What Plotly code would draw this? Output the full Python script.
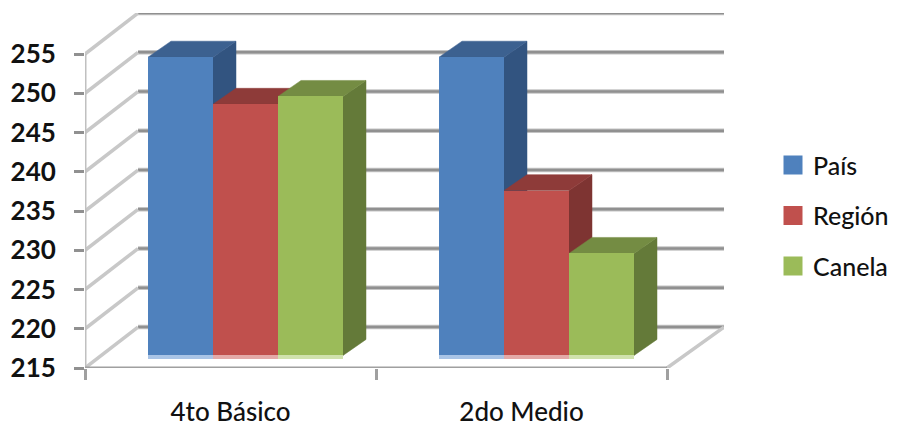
import plotly.graph_objects as go

categories = ["4to Básico", "2do Medio"]
series_names = ["País", "Región", "Canela"]
pais = [253, 253]
region = [247, 236]
canela = [248, 228]
y_ticks = [215, 220, 225, 230, 235, 240, 245, 250, 255]

front = ["#4f81bd", "#c0504d", "#9bbb59"]
top = ["#3c6190", "#8e3b39", "#748c43"]
side = ["#325480", "#7e3432", "#647a39"]
strip = ["#a9c4e6", "#e3aaa8", "#d0e2ad"]
TEXT = "#111111"
FONT = "Lato"

# figure geometry (pixels, page coordinates; the page puts the figure 8 px in)
PAGE = 8
FIG_W, FIG_H = 882, 419
PX_L, PX_R, PX_T, PX_B = 85, 724, 13, 368.5
PX_PER_CAT = 291
PX_PER_UNIT = 7.86
Y_MIN = 215
x_max = (PX_R - PX_L) / PX_PER_CAT
y_max = Y_MIN + (PX_B - PX_T) / PX_PER_UNIT

wall_dx, wall_dy = 53 / PX_PER_CAT, 41 / PX_PER_UNIT
bar_w = 65 / PX_PER_CAT
bar_start = 63 / PX_PER_CAT
bar_dx, bar_dy = 23 / PX_PER_CAT, 16 / PX_PER_UNIT
base_shift = 1.6
strip_h = 0.4

fig = go.Figure()


def line(xs, ys, color, width):
    fig.add_trace(go.Scatter(x=xs, y=ys, mode="lines", showlegend=False, hoverinfo="skip",
                             cliponaxis=False, line=dict(color=color, width=width)))


def poly(xs, ys, color):
    fig.add_trace(go.Scatter(x=xs, y=ys, mode="lines", fill="toself", fillcolor=color,
                             showlegend=False, hoverinfo="skip", line=dict(color=color, width=0.5)))


# walls
gx, gy = [], []
for v in y_ticks:
    gx += [wall_dx, x_max, None]
    gy += [v + wall_dy, v + wall_dy, None]
line(gx, gy, "#c4c4c4", 4.5)
line(gx, gy, "#909090", 2.5)
dx, dy = [], []
for v in y_ticks:
    dx += [0, wall_dx, None]
    dy += [v, v + wall_dy, None]
dx += [2, x_max]
dy += [Y_MIN, Y_MIN + wall_dy]
line(dx, dy, "#c8c8c8", 3.5)
line([0, 0], [Y_MIN, y_ticks[-1]], "#c0c0c0", 3)
line([0, 2], [Y_MIN, Y_MIN], "#a0a0a0", 3)

values = [pais, region, canela]

# side and top faces, painted left to right
for c in range(len(categories)):
    for s in range(len(series_names)):
        xl = c + bar_start + s * bar_w
        xr = xl + bar_w
        yb = Y_MIN + base_shift
        yt = yb + values[s][c] - Y_MIN
        poly([xr, xr + bar_dx, xr + bar_dx, xr, xr],
             [yb, yb + bar_dy, yt + bar_dy, yt, yb], side[s])
        poly([xl, xl + bar_dx, xr + bar_dx, xr, xl],
             [yt, yt + bar_dy, yt + bar_dy, yt, yt], top[s])

# front faces on an overlaid pair of axes, so they sit above the faces
for s, name in enumerate(series_names):
    xc = [c + bar_start + (s + 0.5) * bar_w for c in range(len(categories))]
    fig.add_trace(go.Bar(x=xc, y=[strip_h] * 2, base=Y_MIN + base_shift - strip_h, width=bar_w,
                         marker=dict(color=strip[s], line_width=0), showlegend=False,
                         hoverinfo="skip", xaxis="x2", yaxis="y2"))
    fig.add_trace(go.Bar(x=xc, y=[v - Y_MIN for v in values[s]], base=Y_MIN + base_shift, width=bar_w,
                         marker=dict(color=front[s], line_width=0), showlegend=False,
                         name=name, xaxis="x2", yaxis="y2"))

# legend keys
for s, name in enumerate(series_names):
    fig.add_trace(go.Scatter(x=[None], y=[None], mode="markers", name=name, legendgroup=name,
                             marker=dict(symbol="square", size=16, color=front[s],
                                         line=dict(color=front[s], width=3))))

fig.update_layout(
    width=FIG_W, height=FIG_H, autosize=False,
    margin=dict(l=PX_L - PAGE, r=FIG_W - (PX_R - PAGE), t=PX_T - PAGE, b=FIG_H - (PX_B - PAGE),
                pad=0, autoexpand=False),
    paper_bgcolor="white", plot_bgcolor="white",
    barmode="overlay", bargap=0,
    font=dict(family=FONT, color=TEXT),
    showlegend=True,
    legend=dict(x=(773 - PX_L) / (PX_R - PX_L), y=0.636, xanchor="left", yanchor="top",
                font=dict(size=25, family=FONT, color=TEXT, weight=500), tracegroupgap=15,
                itemsizing="trace", bgcolor="rgba(0,0,0,0)"),
    xaxis=dict(range=[0, x_max], tickmode="array", tickvals=[0, 1, 2], ticktext=["", "", ""],
               ticks="outside", ticklen=11, tickwidth=3, tickcolor="#a0a0a0",
               showgrid=False, zeroline=False, showline=False),
    yaxis=dict(range=[Y_MIN, y_max], tickmode="array", tickvals=y_ticks,
               ticks="outside", ticklen=10, tickwidth=3, tickcolor="#909090",
               ticklabelstandoff=13,
               showgrid=False, zeroline=False, showline=False,
               tickfont=dict(size=26, family=FONT, color=TEXT, weight=700)),
    xaxis2=dict(range=[0, x_max], overlaying="x", anchor="y2", side="bottom", tickmode="array",
                tickvals=[0.5, 1.5], ticktext=categories, ticks="",
                ticklabelstandoff=26, showgrid=False, zeroline=False, showline=False,
                tickfont=dict(size=26, family=FONT, color=TEXT, weight=500)),
    yaxis2=dict(range=[Y_MIN, y_max], overlaying="y", anchor="x2", visible=False),
)

fig.write_html("out.html")
